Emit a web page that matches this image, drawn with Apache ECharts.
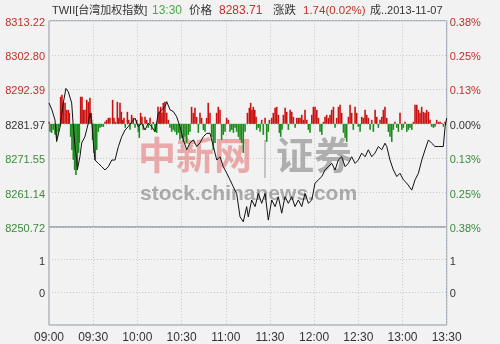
<!DOCTYPE html>
<html>
<head>
<meta charset="utf-8">
<script src="https://cdn.jsdelivr.net/npm/echarts@6/dist/echarts.min.js"></script>
<style>
html,body{margin:0;padding:0;background:#f2f2f2;}
#c{width:500px;height:344px;}
</style>
</head>
<body>
<div id="c"></div>
<script>
// ---- data ----
const timeLabels = ['09:00','09:30','10:00','10:30','11:00','11:30','12:00','12:30','13:00','13:30'];
const priceLabels = ['8250.72','8261.14','8271.55','8281.97','8292.39','8302.80','8313.22'];
const pctLabels = ['0.38%','0.25%','0.13%','0.00%','0.13%','0.25%','0.38%'];
const lowerLabels = ['', '0', '1', ''];
const headerTexts = ['TWII[台湾加权指数]', '13:30', '价格', '8283.71', '涨跌', '1.74(0.02%)', '成..2013-11-07'];
const priceMin = 8250.72, priceMax = 8313.22;

// minutes after 09:00
const lineMinutes = [0,2,4.1,5.2,7.5,9.7,11.5,13.1,15.4,16.5,17.7,18.8,19.2,21,22.2,24.4,26.7,27.8,29,30.1,31.2,33.5,35.8,38,40.3,42.6,44.8,47.1,49.4,51.6,53.8,56.2,58.4,60.6,62.9,65.2,67.4,69.7,72,74.2,76.5,78.8,79.9,82.2,84.4,86.7,88.9,91.2,93.5,95.7,98,100.3,102.5,104.8,107.1,109.3,111.6,113.9,116.1,118.3,120.7,122.9,125.1,127.4,129.7,131.9,134.2,135.3,137.6,139.9,142.1,144.4,146.7,148.9,151.2,153.5,155.7,158,160.2,162.5,164.8,167,169.3,171.6,173.8,176.1,178.4,180.6,182.9,185.2,187.4,189.6,192,194.2,196.4,198.7,201,203.2,205.5,207.8,210,212.3,214.6,216.8,219.1,221.3,223.6,225.9,228.1,229.3,231.5,233.8,236.1,238.3,240.6,242.9,246.3,248.5,250.8,253.1,255.3,257.6,259.8,262.1,264.4,267.7,268.9,270];
const linePrices = [8288.3,8286.2,8283.1,8276.6,8281.1,8288.3,8292.7,8291.7,8288.3,8281.1,8275.1,8271.0,8268.0,8272.0,8276.2,8278.1,8282.2,8285.2,8283.1,8276.2,8271.0,8270.0,8269.0,8268.0,8269.0,8271.0,8271.0,8275.1,8278.1,8280.1,8281.1,8282.6,8283.7,8281.1,8282.1,8280.1,8282.2,8281.1,8279.6,8285.2,8286.2,8287.2,8288.7,8286.2,8285.7,8284.1,8281.1,8277.1,8274.1,8276.2,8277.1,8275.1,8276.2,8278.1,8279.1,8279.1,8275.1,8271.0,8272.0,8269.0,8267.0,8265.0,8262.9,8260.9,8253.8,8252.3,8256.9,8253.8,8258.9,8256.9,8260.9,8257.9,8260.9,8252.8,8258.9,8256.9,8259.9,8254.9,8259.9,8257.9,8259.9,8256.9,8258.9,8256.9,8260.9,8257.9,8258.9,8264.0,8265.0,8266.0,8268.0,8269.0,8270.0,8268.0,8271.0,8272.0,8269.0,8270.0,8272.0,8270.0,8271.0,8273.1,8272.0,8274.1,8272.0,8273.1,8275.1,8274.1,8276.1,8275.1,8271.0,8268.0,8266.0,8267.0,8265.0,8264.0,8261.9,8265.0,8267.0,8271.0,8274.1,8277.1,8276.1,8275.1,8275.1,8275.1,8281.1,8283.71];

const barMinutes = [0,0.7,1.8,2.9,4.1,5.2,6.3,7.5,7.9,8.8,9.7,10.9,12,13.1,13.8,14.7,15.6,16.5,17.4,18.3,19.2,20.1,20.6,21.5,22.4,23.3,24.4,25.6,26.7,27.8,28.7,29.6,30.5,31.4,32.4,33.5,34.6,35.7,36.9,38,39.1,40.3,41.4,43.2,44.1,45,46.4,47.3,48.2,49.1,50,50.9,51.8,53.2,54.1,55,56.1,57.2,58.4,59.5,60.6,61.3,62.2,63.1,64,65.2,66.3,67.4,68.6,69.7,70.8,71.9,73.1,74,74.9,75.8,76.7,77.6,78.7,79.9,81,82.1,83.3,84.4,85.5,86.7,87.8,88.9,90,91.2,92.3,93.4,94.6,95.7,96.8,98,99.1,100.2,101.4,102.5,103.6,104.8,105.9,107,108.1,109.3,110.4,111.5,112.7,113.8,114.9,116.1,117.2,118.3,119.5,120.6,121.7,122.9,124.1,125.2,126.3,127.4,128.6,129.7,130.8,131.9,133.1,134.7,136,136.9,137.8,138.7,139.7,140.6,141,142.1,143.3,144.4,145.5,146.7,147.8,148.9,149.6,151.2,152.3,153.5,154.6,155.7,156.4,157.3,158.2,159.1,160.3,161.4,162.5,163.7,164.8,165.9,167.1,168.2,169.3,170.4,171.6,172.7,173.8,175,176.1,177.2,178.4,179.5,180.6,181.8,182.9,184,185.2,186.3,187.4,188.5,189.7,190.8,191.9,193.1,194.2,195.3,196.5,197.6,198.7,199.9,201,202.1,203.3,204.4,205.5,206.6,207.8,208.9,210,211.2,212.3,213.4,214.6,215.7,216.8,218,219.1,220.2,221.4,222.5,223.6,224.7,225.9,227,228.1,229.3,230.4,231.5,232.7,233.8,234.9,236.1,237.2,238.3,239.5,240.6,241.7,242.9,244,245.1,246.3,247.4,248.5,249.7,250.8,251.9,253,254.2,255.3,256.4,257.6,258.7,259.8,261,262.1,263.2,264.4,265.5,266.6,267.8,268.9];
const barValues = [2,-8,-9,-6,-11,-14,-8,-3,27,29,22,21,14,14,11,-13,-26,-36,-46,-51,-43,-29,-19,27,27,14,14,24,22,26,11,-16,-29,-36,-26,-8,-4,-3,-3,2,4,6,6,24,6,2,22,6,21,12,4,6,-4,12,4,-6,9,6,-4,4,-8,-14,11,7,-6,7,4,-4,6,-6,2,-8,-9,17,12,17,11,21,22,11,4,-4,-8,-6,-8,-11,-9,-16,-14,-18,-13,-19,-11,-8,17,11,16,7,-9,11,6,-6,-8,6,21,11,-13,-26,-19,11,17,14,-16,-11,-8,6,4,-8,-6,-9,-4,-8,-13,-16,-19,-29,-8,11,16,21,14,17,14,7,-6,-4,-8,4,-11,6,-18,-8,4,6,11,16,17,9,-9,-13,-6,9,16,12,-6,14,12,7,-4,6,6,6,9,4,14,4,-6,-9,9,17,17,14,6,-8,-11,2,7,9,6,9,14,17,-4,6,17,19,11,-9,-14,-18,7,19,11,-6,17,11,-3,-8,7,6,14,9,6,-6,4,-8,14,7,-4,4,7,14,17,6,-8,-13,-18,-6,2,-4,-8,11,-6,-4,2,-8,-6,-4,-6,2,19,19,14,11,17,12,11,14,12,4,-3,-4,-3,4,2,2,1,-3,2];

// ---- chart ----
const RED = '#c0302c', GREEN = '#3b8a3b', DARK = '#333333';
const chart = echarts.init(document.getElementById('c'), null, {renderer: 'canvas'});
const font = 'Liberation Sans';
const dotted = {show: true, lineStyle: {color: '#c9c9c9', type: [1, 2], width: 1}};
function colorIdx(i) { return i < 3 ? 'g' : (i === 3 ? 'd' : 'r'); }
const pad = [4, 0, 0, 0];
const rich = {
  r: {color: RED, fontSize: 11, fontFamily: font, padding: pad},
  g: {color: GREEN, fontSize: 11, fontFamily: font, padding: pad},
  d: {color: DARK, fontSize: 11, fontFamily: font, padding: pad}
};
const G1 = {left: 49, top: 20.7, width: 397.7, height: 206.3};
const G2 = {left: 49, top: 227, width: 397.7, height: 103.4};

// header segments: [text index, left x, colour, font size]
const headerLayout = [[0, 52, '#333333', 11], [1, 152, '#4aa84a', 12], [2, 189, '#333333', 11.5], [3, 219, RED, 12],
                      [4, 273, '#333333', 11.5], [5, 303, RED, 11.5], [6, 370, '#333333', 11]];
const headerGraphics = headerLayout.map(h => ({
  type: 'text', left: h[1], top: 5, z: 10,
  style: {text: headerTexts[h[0]], fill: h[2], font: h[3] + 'px "Liberation Sans", "Noto Sans CJK SC"'}
}));

const option = {
  backgroundColor: '#f2f2f2',
  animation: false,
  grid: [
    Object.assign({show: true, borderColor: '#8d99a5', borderWidth: 1, backgroundColor: 'transparent'}, G1),
    Object.assign({show: true, borderColor: '#8d99a5', borderWidth: 1, backgroundColor: 'transparent'}, G2)
  ],
  xAxis: [
    {type: 'value', gridIndex: 0, min: 0, max: 270, interval: 30,
     axisLine: {show: false}, axisTick: {show: false}, axisLabel: {show: false}, splitLine: dotted},
    {type: 'value', gridIndex: 1, min: 0, max: 270, interval: 30,
     axisLine: {show: false}, axisTick: {show: false}, splitLine: dotted,
     axisLabel: {show: true, color: DARK, fontSize: 12, fontFamily: font, margin: 7,
       formatter: v => timeLabels[Math.round(v / 30)]}}
  ],
  yAxis: [
    {type: 'value', gridIndex: 0, min: 0, max: 6, interval: 1, position: 'left',
     axisLine: {show: false}, axisTick: {show: false}, splitLine: dotted,
     axisLabel: {margin: 4, formatter: (v) => { const i = Math.round(v); return '{' + colorIdx(i) + '|' + priceLabels[i] + '}'; }, rich: rich}},
    {type: 'value', gridIndex: 0, min: 0, max: 6, interval: 1, position: 'right',
     axisLine: {show: false}, axisTick: {show: false}, splitLine: {show: false},
     axisLabel: {margin: 3, formatter: (v) => { const i = Math.round(v); return '{' + colorIdx(i) + '|' + pctLabels[i] + '}'; }, rich: rich}},
    {type: 'value', gridIndex: 0, min: priceMin, max: priceMax, show: false},
    {type: 'value', gridIndex: 0, min: -103, max: 103, show: false},
    {type: 'value', gridIndex: 1, min: -1, max: 2, interval: 1, position: 'left',
     axisLine: {show: false}, axisTick: {show: false}, splitLine: dotted,
     axisLabel: {margin: 4, formatter: v => '{d|' + lowerLabels[Math.round(v) + 1] + '}', rich: rich}},
    {type: 'value', gridIndex: 1, min: -1, max: 2, interval: 1, position: 'right',
     axisLine: {show: false}, axisTick: {show: false}, splitLine: {show: false},
     axisLabel: {margin: 3, formatter: v => '{d|' + lowerLabels[Math.round(v) + 1] + '}', rich: rich}}
  ],
  series: [
    {type: 'bar', xAxisIndex: 0, yAxisIndex: 3, barWidth: 1.6, z: 3,
     data: barMinutes.map((m, i) => [m, barValues[i]]),
     itemStyle: {color: p => p.value[1] >= 0 ? '#cc1111' : '#1e8a1e'}},
    {type: 'line', xAxisIndex: 0, yAxisIndex: 2, showSymbol: false, z: 4,
     data: lineMinutes.map((m, i) => [m, linePrices[i]]),
     lineStyle: {color: '#111111', width: 1}}
  ],
  graphic: headerGraphics.concat([
    {type: 'text', left: 138, top: 136, z: 1,
     style: {text: '中新网', fill: 'rgba(225,110,110,0.55)', font: 'bold 38px "Noto Sans CJK SC"'}},
    {type: 'rect', shape: {x: 264, y: 140, width: 2, height: 38}, z: 1,
     style: {fill: 'rgba(150,150,150,0.5)'}},
    {type: 'text', left: 276, top: 136, z: 1,
     style: {text: '证券', fill: 'rgba(120,120,120,0.55)', font: 'bold 38px "Noto Sans CJK SC"'}},
    {type: 'text', left: 140, top: 184, z: 1,
     style: {text: 'stock.chinanews.com', fill: 'rgba(120,120,120,0.6)', font: 'bold 21px "Liberation Sans"'}}
  ])
};
chart.setOption(option);
</script>
</body>
</html>
